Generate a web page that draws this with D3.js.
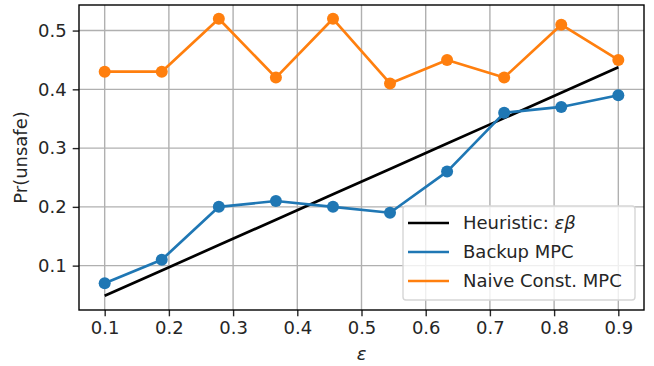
<!DOCTYPE html>
<html lang="en">
<head>
<meta charset="UTF-8">
<title>Pr(unsafe) vs epsilon</title>
<style>
  body { margin: 0; background: #fff; }
  svg text { font-family: 'DejaVu Sans', sans-serif; fill: #262626; }
</style>
</head>
<body>
<script src="https://d3js.org/d3.v7.min.js"></script>
<script>
const width = 654;
const height = 366;
const margin = { top: 5, right: 10, bottom: 56, left: 79 };

// data
const epsilons = [0.1, 0.1889, 0.2778, 0.3667, 0.4556, 0.5444, 0.6333, 0.7222, 0.8111, 0.9];
const heuristic = [0.0486, 0.0918, 0.1350, 0.1782, 0.2214, 0.2646, 0.3078, 0.3510, 0.3942, 0.4374];
const backupMPC = [0.07, 0.11, 0.20, 0.21, 0.20, 0.19, 0.26, 0.36, 0.37, 0.39];
const naiveMPC = [0.43, 0.43, 0.52, 0.42, 0.52, 0.41, 0.45, 0.42, 0.51, 0.45];
const xTicks = [0.1, 0.2, 0.3, 0.4, 0.5, 0.6, 0.7, 0.8, 0.9];
const yTicks = [0.1, 0.2, 0.3, 0.4, 0.5];

const series = [
    { name: "Heuristic", values: heuristic, color: "#000000", markers: false },
    { name: "Backup MPC", values: backupMPC, color: "#1f77b4", markers: true },
    { name: "Naive Const. MPC", values: naiveMPC, color: "#ff7f0e", markers: true }
];

const fontSize = 18;

const svg = d3.select("body").append("svg")
    .attr("width", width)
    .attr("height", height);

const x = d3.scaleLinear().domain([0.06, 0.94]).range([margin.left, width - margin.right]);
const y = d3.scaleLinear().domain([0.0245, 0.5435]).range([height - margin.bottom, margin.top]);

// grid
svg.append("g").selectAll("line").data(xTicks).join("line")
    .attr("x1", d => x(d)).attr("x2", d => x(d))
    .attr("y1", margin.top).attr("y2", height - margin.bottom)
    .attr("stroke", "#b0b0b0").attr("stroke-width", 1.4);
svg.append("g").selectAll("line").data(yTicks).join("line")
    .attr("y1", d => y(d)).attr("y2", d => y(d))
    .attr("x1", margin.left).attr("x2", width - margin.right)
    .attr("stroke", "#b0b0b0").attr("stroke-width", 1.4);

// axes
const xAxis = svg.append("g")
    .attr("transform", `translate(0,${height - margin.bottom})`)
    .call(d3.axisBottom(x).tickValues(xTicks).tickFormat(d3.format(".1f")).tickSizeOuter(0).tickSize(6.3).tickPadding(5));
const yAxis = svg.append("g")
    .attr("transform", `translate(${margin.left},0)`)
    .call(d3.axisLeft(y).tickValues(yTicks).tickFormat(d3.format(".1f")).tickSizeOuter(0).tickSize(6.3).tickPadding(6));
[xAxis, yAxis].forEach(a => {
    a.select(".domain").remove();
    a.selectAll("text").attr("font-size", fontSize).attr("fill", "#262626");
    a.selectAll("line").attr("stroke", "#262626").attr("stroke-width", 1.4);
});

// lines
const line = d3.line().x((d, i) => x(epsilons[i])).y(d => y(d));
series.forEach(s => {
    svg.append("path")
        .datum(s.values)
        .attr("d", line)
        .attr("fill", "none")
        .attr("stroke", s.color)
        .attr("stroke-width", 2.7)
        .attr("stroke-linejoin", "round");
    if (s.markers) {
        svg.append("g").selectAll("circle").data(s.values).join("circle")
            .attr("cx", (d, i) => x(epsilons[i]))
            .attr("cy", d => y(d))
            .attr("r", 6)
            .attr("fill", s.color);
    }
});

// frame
svg.append("rect")
    .attr("x", margin.left).attr("y", margin.top)
    .attr("width", width - margin.left - margin.right)
    .attr("height", height - margin.top - margin.bottom)
    .attr("fill", "none").attr("stroke", "#000").attr("stroke-width", 1.4);

// labels
svg.append("text")
    .attr("x", (margin.left + width - margin.right) / 2)
    .attr("y", 360)
    .attr("text-anchor", "middle")
    .attr("font-size", fontSize)
    .attr("font-style", "italic")
    .text("ε");
svg.append("text")
    .attr("transform", `translate(27,${(margin.top + height - margin.bottom) / 2}) rotate(-90)`)
    .attr("text-anchor", "middle")
    .attr("font-size", fontSize)
    .text("Pr(unsafe)");

// legend
const legend = svg.append("g").attr("transform", "translate(403,206)");
legend.append("rect")
    .attr("width", 232).attr("height", 94)
    .attr("rx", 3)
    .attr("fill", "#fff").attr("fill-opacity", 0.8)
    .attr("stroke", "#d6d6d6").attr("stroke-width", 1.4);
const items = legend.selectAll("g.item").data(series).join("g")
    .attr("class", "item")
    .attr("transform", (d, i) => `translate(0,${17 + i * 29})`);
items.append("line")
    .attr("x1", 5).attr("x2", 46)
    .attr("stroke", d => d.color).attr("stroke-width", 2.7);
const labels = items.append("text")
    .attr("x", 60).attr("dy", "0.35em")
    .attr("font-size", fontSize);
labels.filter(d => d.name === "Heuristic").each(function() {
    const t = d3.select(this);
    t.append("tspan").text("Heuristic: ");
    t.append("tspan").attr("font-style", "italic").text("εβ");
});
labels.filter(d => d.name !== "Heuristic").text(d => d.name);
</script>
</body>
</html>
